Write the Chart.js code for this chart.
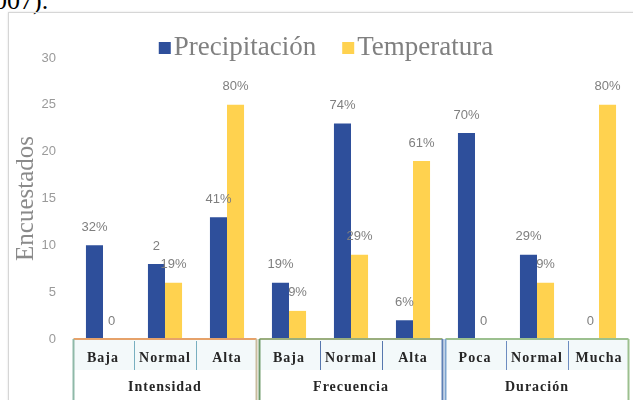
<!DOCTYPE html>
<html>
<head>
<meta charset="utf-8">
<script src="https://cdn.jsdelivr.net/npm/chart.js@4.4.1/dist/chart.umd.min.js"></script>
<style>
    html, body { margin: 0; padding: 0; background: #fff; }
    body { width: 633px; height: 400px; position: relative; overflow: hidden; }
    #cut { position: absolute; left: -6px; top: -12px; font: 26px/26px "Liberation Serif", serif; color: #000; }
    #frame { position: absolute; left: 8px; top: 12px; width: 640px; height: 400px; border: 1px solid #d6d6d6; box-shadow: 0 0 2px rgba(0, 0, 0, 0.12); }
    #wrap { position: absolute; left: 0; top: 0; }
</style>
</head>
<body>
<div id="cut">007).</div>
<div id="frame"></div>
<div id="wrap"><canvas id="surveyChart" width="633" height="400"></canvas></div>
<script>
// Survey answers per category (count of respondents)
const categories = ['Baja', 'Normal', 'Alta', 'Baja', 'Normal', 'Alta', 'Poca', 'Normal', 'Mucha'];
const groups = ['Intensidad', 'Frecuencia', 'Duración'];
const precipitacion = [10, 8, 13, 6, 23, 2, 22, 9, 0];
const temperatura = [0, 6, 25, 3, 9, 19, 0, 6, 25];
const precipLabels = ['32%', '2', '41%', '19%', '74%', '6%', '70%', '29%', '0'];
const tempLabels = ['0', '19%', '80%', '9%', '29%', '61%', '0', '9%', '80%'];
const yTicks = [0, 5, 10, 15, 20, 25, 30];

const BLUE = '#2E4F9B';
const YELLOW = '#FFD24F';

// percent labels above every bar
const barLabels = {
    id: 'barLabels',
    afterDatasetsDraw(chart) {
        const ctx = chart.ctx;
        ctx.save();
        ctx.font = '13px "Liberation Sans", sans-serif';
        ctx.fillStyle = '#7f7f7f';
        ctx.textAlign = 'center';
        ctx.textBaseline = 'middle';
        chart.data.datasets.forEach((ds, di) => {
            chart.getDatasetMeta(di).data.forEach((bar, i) => {
                ctx.fillText(ds.valueLabels[i], bar.x, bar.y - 18);
            });
        });
        ctx.restore();
    }
};

// legend sits over the plot like in the excel original
const overlayLegend = {
    id: 'overlayLegend',
    afterDraw(chart) {
        const ctx = chart.ctx;
        ctx.save();
        ctx.font = '27px "Liberation Serif", serif';
        ctx.textBaseline = 'middle';
        const box = 12, gap = 3, itemGap = 26;
        const items = chart.data.datasets.map(ds => ({ text: ds.label, color: ds.backgroundColor }));
        const widths = items.map(it => box + gap + ctx.measureText(it.text).width);
        const total = widths.reduce((a, b) => a + b, 0) + itemGap * (items.length - 1);
        let x = 326 - total / 2;
        const y = 48;
        items.forEach((it, i) => {
            ctx.fillStyle = it.color;
            ctx.fillRect(x, y - box / 2, box, box);
            ctx.fillStyle = '#808080';
            ctx.fillText(it.text, x + box + gap, y);
            x += widths[i] + itemGap;
        });
        ctx.restore();
    }
};

// two-row category table under the x axis
const categoryTable = {
    id: 'categoryTable',
    afterDraw(chart) {
        const ctx = chart.ctx;
        const xs = chart.scales.x;
        const top = chart.chartArea.bottom;
        const mid = top + 31;
        const bottom = chart.height + 2;
        const step = xs.getPixelForValue(1) - xs.getPixelForValue(0);
        const styles = [
            { topLine: '#E6A26A', side: '#8FB9A8', right: '#C9BC9E', divider: '#78AFC0' },
            { topLine: '#9AAE7E', side: '#6F9A6A', right: '#5E80B5', divider: '#5677AE' },
            { topLine: '#9CC08F', side: '#7DA4CF', right: '#9CC08F', divider: '#6C8CC0' }
        ];
        ctx.save();
        groups.forEach((g, gi) => {
            const st = styles[gi];
            const left = xs.getPixelForValue(gi * 3) - step / 2 + 1.5;
            const right = xs.getPixelForValue(gi * 3 + 2) + step / 2 - 1.5;

            ctx.fillStyle = '#F3F9FA';
            ctx.fillRect(left, top, right - left, mid - top);

            ctx.lineWidth = 2;
            ctx.strokeStyle = st.topLine;
            ctx.beginPath();
            ctx.moveTo(left, top);
            ctx.lineTo(right, top);
            ctx.stroke();

            ctx.strokeStyle = st.side;
            ctx.beginPath();
            ctx.moveTo(left, top);
            ctx.lineTo(left, bottom);
            ctx.stroke();
            ctx.strokeStyle = st.right;
            ctx.beginPath();
            ctx.moveTo(right, top);
            ctx.lineTo(right, bottom);
            ctx.stroke();

            ctx.lineWidth = 1;
            ctx.strokeStyle = st.divider;
            for (let k = 1; k < 3; k++) {
                const dx = Math.round(xs.getPixelForValue(gi * 3 + k) - step / 2) + 0.5;
                ctx.beginPath();
                ctx.moveTo(dx, top + 2);
                ctx.lineTo(dx, mid);
                ctx.stroke();
            }

            ctx.fillStyle = '#262626';
            ctx.font = 'bold 14px "Liberation Serif", serif';
            ctx.letterSpacing = '1px';
            ctx.textAlign = 'center';
            ctx.textBaseline = 'middle';
            ctx.fillText(g, (left + right) / 2, mid + 17);
        });

        categories.forEach((c, i) => {
            ctx.fillText(c, xs.getPixelForValue(i), top + 19);
        });
        ctx.restore();
    }
};

const ctx = document.getElementById('surveyChart').getContext('2d');
new Chart(ctx, {
    type: 'bar',
    data: {
        labels: categories,
        datasets: [
            {
                label: 'Precipitación',
                data: precipitacion,
                valueLabels: precipLabels,
                backgroundColor: BLUE
            },
            {
                label: 'Temperatura',
                data: temperatura,
                valueLabels: tempLabels,
                backgroundColor: YELLOW
            }
        ]
    },
    options: {
        responsive: false,
        animation: false,
        layout: { padding: { left: 11, right: 3, top: 58, bottom: 61 } },
        datasets: {
            bar: { categoryPercentage: 0.55, barPercentage: 1.0 }
        },
        plugins: {
            legend: { display: false },
            tooltip: { enabled: false }
        },
        scales: {
            x: { display: false },
            y: {
                min: yTicks[0],
                max: yTicks[yTicks.length - 1],
                afterFit(scale) { scale.width = 61; },
                ticks: {
                    stepSize: yTicks[1] - yTicks[0],
                    padding: 16,
                    color: '#9a9a9a',
                    font: { family: '"Liberation Sans", sans-serif', size: 13 }
                },
                grid: { display: false, drawTicks: false },
                border: { display: false },
                title: {
                    display: true,
                    text: 'Encuestados',
                    color: '#8a8a8a',
                    font: { family: '"Liberation Serif", serif', size: 25 },
                    padding: { top: 0, bottom: 2 }
                }
            }
        }
    },
    plugins: [barLabels, overlayLegend, categoryTable]
});
</script>
</body>
</html>
